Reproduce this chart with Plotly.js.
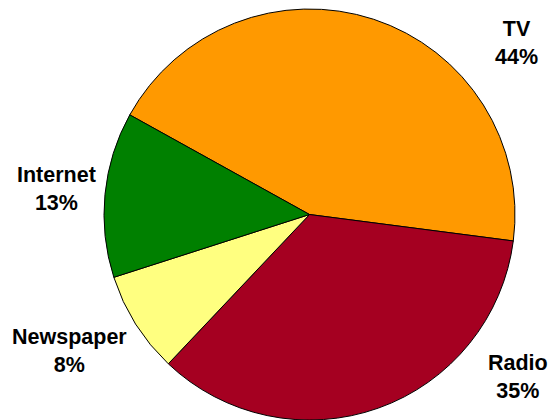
<!DOCTYPE html>
<html>
<head>
<meta charset="utf-8">
<script src="https://cdn.plot.ly/plotly-3.0.1.min.js"></script>
<style>html,body{margin:0;padding:0;background:#fff;}#chart{width:551px;height:420px;}</style>
</head>
<body>
<div id="chart"></div>
<script>
const labels = ["TV", "Radio", "Newspaper", "Internet"];
const values = [44, 35, 8, 13];
const colors = ["#FF9900", "#A50021", "#FFFF80", "#008000"];
// label anchor positions in pixels (centre of two-line label block)
const labelPosPx = [[516.5, 43.5], [518, 377], [69.5, 350.5], [56, 189]];

const W = 551, H = 420;
const M = {l: 0, r: 0, t: 9, b: 0};
const total = values.reduce((a, b) => a + b, 0);

const annotations = labels.map((lab, i) => ({
  text: "<b>" + lab + "<br>" + Math.round(values[i] / total * 100) + "%</b>",
  xref: "paper", yref: "paper",
  x: labelPosPx[i][0] / W,
  y: (H - M.b - labelPosPx[i][1]) / (H - M.t - M.b),
  xanchor: "center", yanchor: "middle",
  showarrow: false,
  align: "center",
  font: {family: "Arial, 'Liberation Sans', sans-serif", size: 21.5, color: "#000"}
}));

const trace = {
  type: "pie",
  labels: labels,
  values: values,
  sort: false,
  direction: "clockwise",
  rotation: -61,
  textinfo: "none",
  hoverinfo: "label+percent",
  marker: {colors: colors, line: {color: "#000", width: 1}},
  domain: {x: [104 / W, 515 / W], y: [0, 1]}
};

const layout = {
  width: W, height: H,
  margin: M,
  showlegend: false,
  paper_bgcolor: "#fff",
  plot_bgcolor: "#fff",
  annotations: annotations,
  font: {family: "Arial, 'Liberation Sans', sans-serif"}
};

Plotly.newPlot("chart", [trace], layout, {displayModeBar: false, staticPlot: true});
</script>
</body>
</html>
